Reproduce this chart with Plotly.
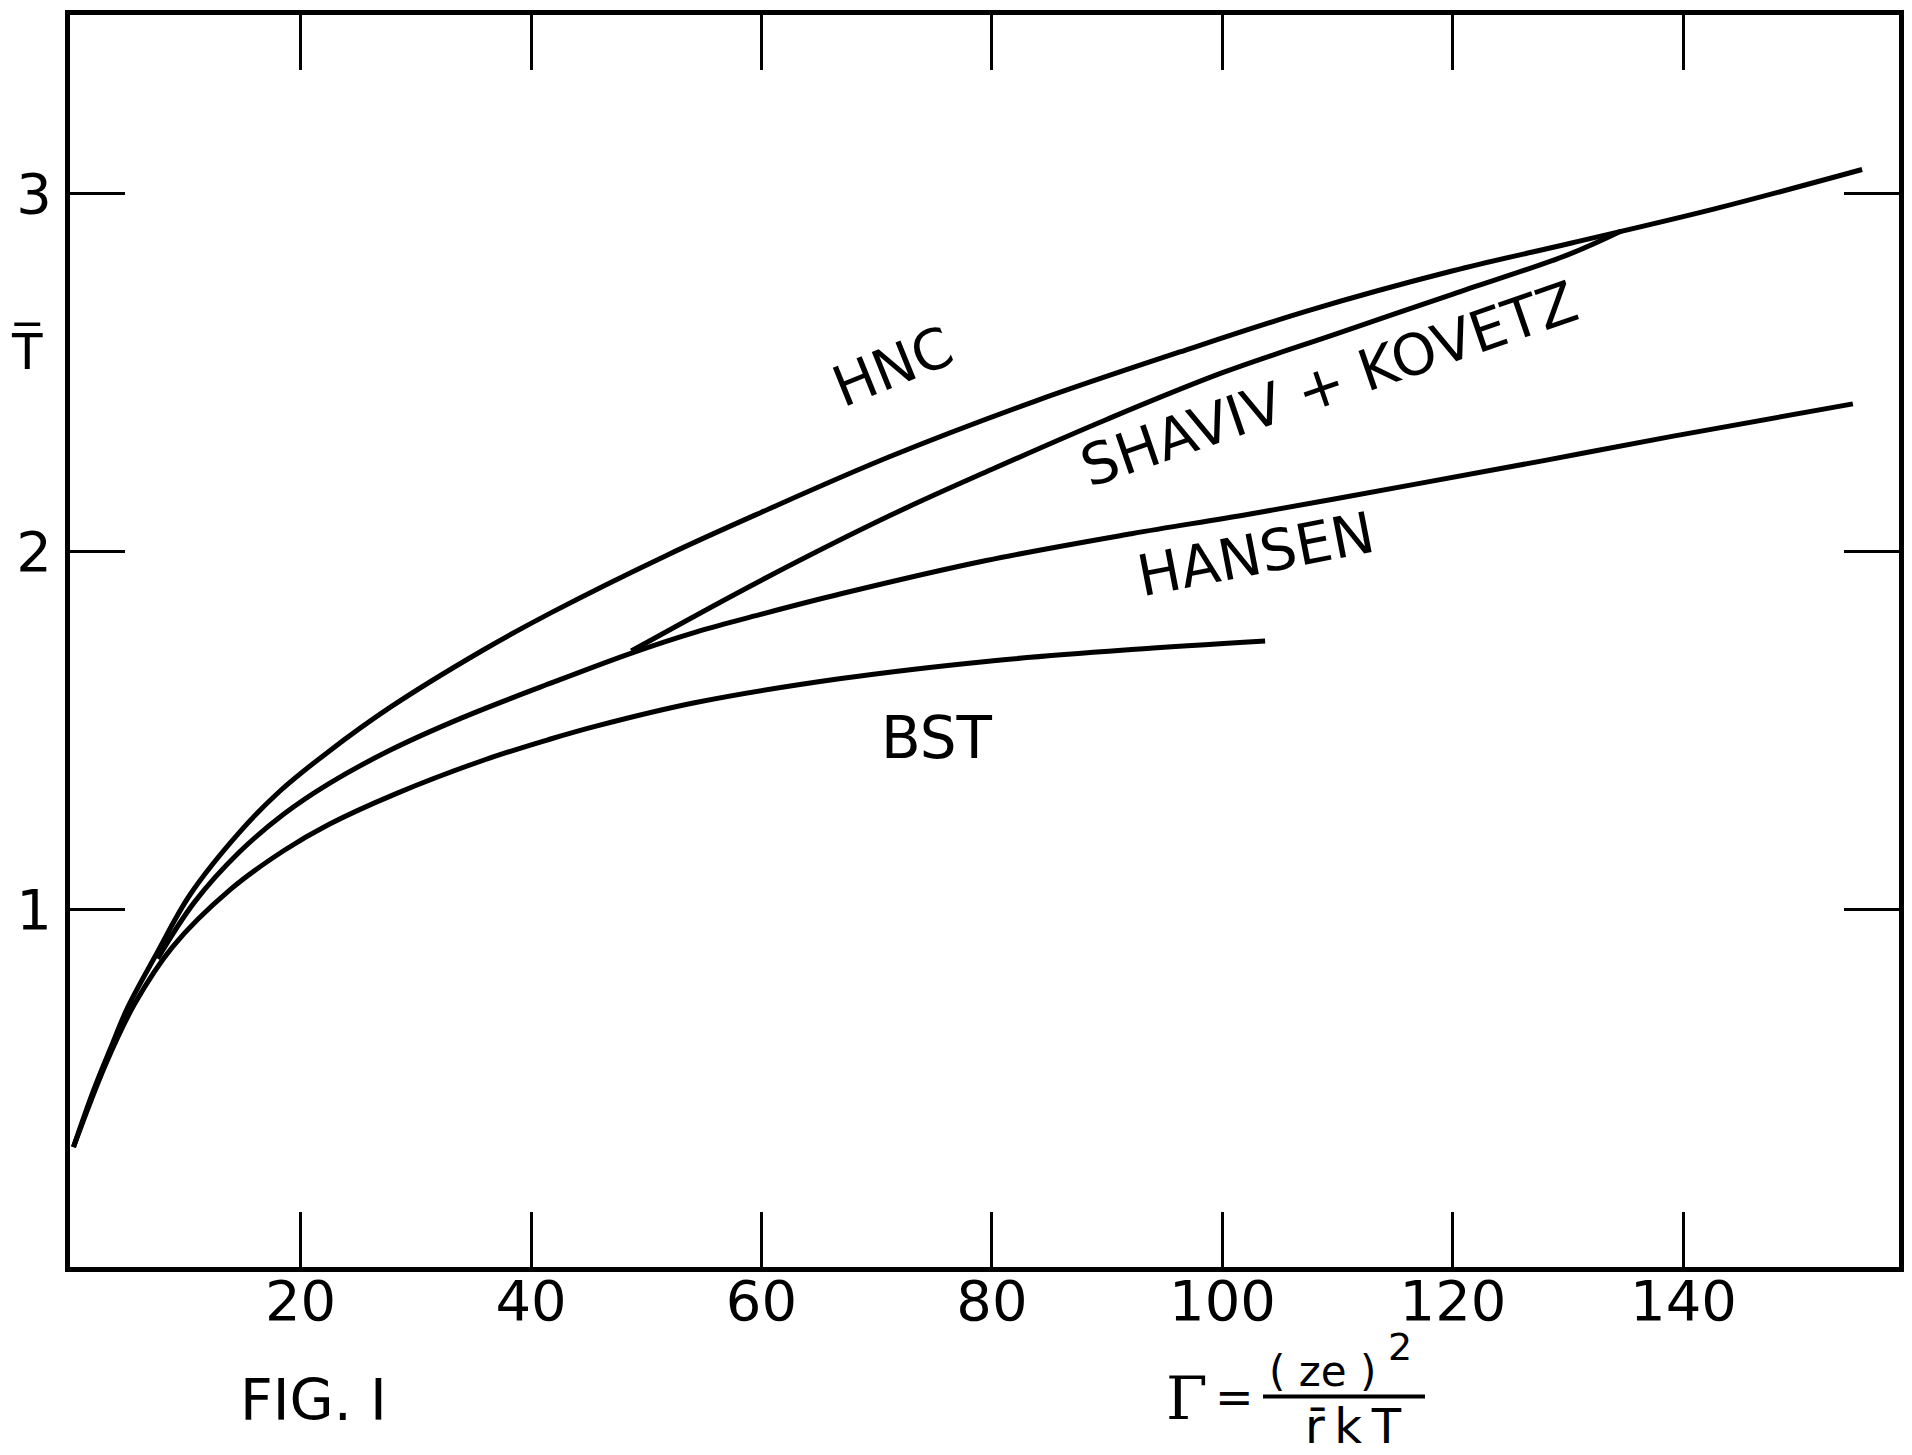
import plotly.graph_objects as go

# ---- data ----
hnc_x = [0.3, 2.0, 3.5, 5.0, 7.5, 10.4, 14.7, 18.2, 22.4, 27.8, 35.6, 41.8, 51.8, 60.0,
         71.1, 83.7, 96.3, 107.6, 120.0, 130.2, 142.7, 155.5]
hnc_y = [0.335, 0.49, 0.61, 0.725, 0.875, 1.04, 1.215, 1.33, 1.44, 1.565, 1.72, 1.83, 1.99, 2.11,
         2.265, 2.42, 2.558, 2.675, 2.785, 2.862, 2.958, 3.068]

sk_x = [48.7, 60.0, 71.1, 80.0, 90.0, 100.0, 110.0, 120.0, 130.0, 134.6]
sk_y = [1.722, 1.92, 2.10, 2.23, 2.37, 2.50, 2.61, 2.72, 2.83, 2.896]

hansen_x = [7.6, 10.8, 14.7, 18.5, 22.4, 27.8, 34.0, 41.7, 48.6, 54.3, 60.0, 66.9,
            79.5, 92.1, 102.4, 117.0, 128.0, 139.0, 154.7]
hansen_y = [0.862, 1.02, 1.16, 1.265, 1.35, 1.445, 1.535, 1.632, 1.715, 1.775, 1.825, 1.882,
            1.975, 2.05, 2.105, 2.19, 2.255, 2.322, 2.413]

bst_x = [0.3, 3.07, 5.6, 8.9, 13.9, 18.6, 22.45, 28.2, 36.0, 41.7, 45.65, 54.3, 66.9, 79.5, 92.1, 103.7]
bst_y = [0.335, 0.565, 0.735, 0.895, 1.055, 1.165, 1.237, 1.322, 1.418, 1.476, 1.512, 1.578, 1.645, 1.693, 1.726, 1.750]

x_ticks = [20, 40, 60, 80, 100, 120, 140]
y_ticks = [1, 2, 3]

FONT = "DejaVu Sans"

fig = go.Figure()
for xs, ys in [(hnc_x, hnc_y), (sk_x, sk_y), (hansen_x, hansen_y), (bst_x, bst_y)]:
    fig.add_trace(go.Scatter(x=xs, y=ys, mode="lines",
                             line=dict(color="black", width=5, shape="spline", smoothing=1.0),
                             showlegend=False, hoverinfo="skip"))

axis_common = dict(showline=True, linewidth=5, linecolor="black", mirror="ticks",
                   ticks="inside", ticklen=55, tickwidth=3, tickcolor="black",
                   showgrid=False, zeroline=False,
                   tickfont=dict(family=FONT, size=56, color="black"))

fig.update_xaxes(range=[0, 158.7], tickvals=x_ticks, ticktext=[str(v) for v in x_ticks],
                 ticklabelstandoff=-19, **axis_common)
fig.update_yaxes(range=[0, 3.5], tickvals=y_ticks, ticktext=[str(v) for v in y_ticks],
                 ticklabelstandoff=2, **axis_common)

def ann(text, x, y, size=54, angle=0, ref="data", family=FONT):
    d = dict(text=text, showarrow=False, textangle=angle,
             font=dict(family=family, size=size, color="black"),
             xanchor="center", yanchor="middle")
    if ref == "data":
        d.update(x=x, y=y, xref="x", yref="y")
    else:
        d.update(x=x, y=y, xref="paper", yref="paper")
    fig.add_annotation(**d)

# curve labels
ann("HNC", 71.4, 2.518, size=56, angle=-22)
ann("SHAVIV + KOVETZ", 109.2, 2.468, size=57, angle=-19)
ann("HANSEN", 102.9, 1.994, size=57, angle=-11)
ann("BST", 75.2, 1.479, size=58)

# figure caption and axis formula (paper coordinates; page pixels -> paper)
def px(X):
    return (X - 70) / 1829.0

def py(Y):
    return (1267 - Y) / 1256.5

ann("FIG. I", px(313), py(1400), size=57, ref="paper")
ann("Γ", px(1187), py(1398), size=60, ref="paper", family="DejaVu Serif")
ann("=", px(1234), py(1397), size=46, ref="paper")
ann("( ze )", px(1322), py(1372), size=42, ref="paper")
ann("2", px(1400), py(1347), size=38, ref="paper")
ann("r\u0304\u2009k\u2009T", px(1353), py(1427), size=48, ref="paper")
fig.add_shape(type="line", xref="paper", yref="paper",
              x0=px(1263), x1=px(1425), y0=py(1397), y1=py(1397),
              line=dict(color="black", width=4))

# partly visible y-axis label at the left edge
ann("T\u0305", px(27), py(348), size=50, ref="paper")

# the page body adds an 8 px offset, so the figure is 8 px smaller than the window
fig.update_layout(width=1904, height=1447,
                  margin=dict(l=62, r=13, t=2, b=188),
                  paper_bgcolor="white", plot_bgcolor="white")

fig.write_html("out.html")
